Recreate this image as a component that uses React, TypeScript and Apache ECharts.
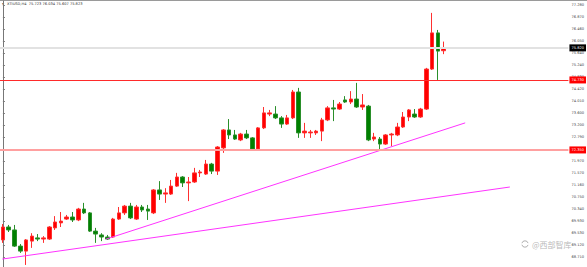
import React, { useEffect, useRef } from "react";
import * as echarts from "echarts";

const opens = [69.29,69.73,69.63,69.08,68.91,69.25,69.36,69.32,69.32,69.70,69.87,70.00,70.07,69.97,70.34,70.21,69.59,69.46,69.39,69.39,70.00,70.21,70.44,70.00,70.41,70.34,70.21,70.99,70.85,70.85,71.12,71.43,71.23,71.26,71.57,71.53,71.87,71.63,72.42,73.03,72.86,72.69,72.89,72.76,72.38,73.10,73.57,73.57,73.44,73.23,73.44,74.32,72.93,72.93,72.93,72.99,73.37,73.78,73.74,74.05,73.98,74.08,73.81,73.84,72.72,72.72,72.55,72.86,72.86,73.13,73.47,73.57,73.47,73.74,75.10,76.33,75.723];
const closes = [69.73,69.63,69.08,68.91,69.29,69.42,69.32,69.36,69.73,69.90,69.93,70.07,69.97,70.34,70.21,69.59,69.49,69.39,69.32,70.00,70.21,70.44,70.04,70.41,70.31,70.27,70.99,70.85,70.89,71.12,71.43,71.23,71.26,71.57,71.60,71.87,71.63,72.45,73.03,72.86,72.72,72.89,72.76,72.38,73.10,73.61,73.61,73.44,73.23,73.44,74.32,72.93,72.99,72.96,72.99,73.37,73.78,73.74,73.91,73.98,74.08,73.81,73.88,72.69,72.79,72.55,72.86,72.89,73.13,73.47,73.71,73.47,73.74,75.10,76.33,75.71,75.823];
const highs = [69.83,69.80,69.80,69.15,69.32,69.52,69.49,69.42,69.76,70.10,70.24,70.14,70.24,70.38,70.55,70.24,69.70,69.52,69.46,70.04,70.41,70.48,70.55,70.48,70.48,70.48,71.02,71.29,71.05,71.33,71.57,71.46,71.43,71.74,71.67,72.01,71.91,72.48,73.06,73.40,73.03,72.93,73.03,72.79,73.13,73.81,73.71,73.84,73.50,73.54,74.39,74.46,73.27,73.03,73.03,73.44,73.84,74.05,73.98,74.18,74.35,74.63,74.25,73.88,72.93,72.79,72.89,72.93,73.27,73.64,73.74,73.74,73.78,75.14,77.01,76.43,76.034];
const lows = [69.19,69.56,69.05,68.85,68.44,69.02,69.25,69.19,69.29,69.63,69.73,69.97,69.90,69.93,70.17,69.56,69.19,69.25,69.29,69.36,69.97,70.14,70.00,69.97,70.24,69.97,70.17,70.65,70.55,70.82,71.09,71.09,70.61,71.23,71.43,71.50,71.53,71.50,72.25,72.72,72.69,72.65,72.72,72.35,72.35,73.06,73.50,73.40,73.10,73.20,73.40,72.76,72.76,72.76,72.86,72.65,73.33,73.33,73.71,73.95,73.91,73.78,73.71,72.65,72.65,72.35,72.52,72.48,72.82,73.10,73.33,73.44,73.44,73.71,75.07,74.73,75.607];

const slotCount = 98;
const categories = Array.from({ length: slotCount }, (_, i) => String(i + 1));

const tickValues = [68.71, 69.12, 69.53, 69.93, 70.34, 70.75, 71.16, 71.57, 71.97, 72.38, 72.79, 73.2, 73.6, 74.01, 74.42, 74.83, 75.24, 75.64, 76.05, 76.46, 76.87, 77.28];

const currentPrice = 75.823;
const resistance = 74.73;
const support = 72.35;

const trendUpper = [[17.8, 69.32], [79.7, 73.27]];
const trendLower = [[-0.1, 68.64], [87.4, 71.09]];

const headerText = "XTIUSD,H4  75.723 76.034 75.607 75.823";
const watermark = "@西部智库";

export default function App() {
  const ref = useRef<HTMLDivElement>(null);
  useEffect(() => {
    if (!ref.current) return;
    const chart = echarts.init(ref.current, undefined, { renderer: "svg" });
    const w = 5.85;
    const left = -2.4;
    const gridWidth = w * slotCount;
    const candleData = opens.map((o, i) => [o, closes[i], lows[i], highs[i]]);
    const tickLabelFont = { fontSize: 3.6, fontFamily: "DejaVu Sans" };
    const boxLabel = (bg: string) => ({
      show: true,
      position: "end",
      distance: 1,
      formatter: (p: any) => Number(p.value).toFixed(3),
      backgroundColor: bg,
      color: "#fff",
      padding: [1.5, 2],
      fontSize: 3.6,
      fontFamily: "DejaVu Sans",
    });
    chart.setOption({
      animation: false,
      backgroundColor: "#fff",
      grid: { left, top: 1, width: gridWidth, bottom: 0, containLabel: false },
      xAxis: [
        { type: "category", data: categories, boundaryGap: true, show: false },
        { type: "value", min: -0.5, max: slotCount - 0.5, show: false },
      ],
      yAxis: {
        type: "value",
        position: "right",
        min: 68.37,
        max: 77.414,
        offset: 1,
        axisLine: { show: true, lineStyle: { color: "#777", width: 1 } },
        axisTick: { show: true, length: 2, customValues: tickValues, lineStyle: { color: "#777" } },
        axisLabel: {
          show: true,
          customValues: tickValues,
          margin: 2,
          color: "#444",
          ...tickLabelFont,
          formatter: (v: number) => v.toFixed(3),
        },
        splitLine: { show: false },
      },
      series: [
        {
          type: "candlestick",
          data: candleData,
          barWidth: 4,
          itemStyle: {
            color: "#ff0000",
            color0: "#008000",
            borderColor: "#ff3030",
            borderColor0: "#2a8f2a",
            borderWidth: 1,
          },
          markLine: {
            silent: true,
            symbol: ["none", "none"],
            data: [
              { yAxis: currentPrice, lineStyle: { color: "#e2e2e2", width: 2, type: "solid" }, label: boxLabel("#000") },
              { yAxis: resistance, lineStyle: { color: "#ff2a2a", width: 1, type: "solid" }, label: boxLabel("#ff0000") },
              { yAxis: support, lineStyle: { color: "#ffa0a0", width: 2, type: "solid" }, label: boxLabel("#ff0000") },
            ],
          },
        },
        {
          type: "line",
          xAxisIndex: 1,
          data: trendUpper,
          symbol: "none",
          silent: true,
          lineStyle: { color: "#ff33ff", width: 1 },
        },
        {
          type: "line",
          xAxisIndex: 1,
          data: trendLower,
          symbol: "none",
          silent: true,
          lineStyle: { color: "#ff33ff", width: 1 },
        },
      ],
      graphic: [
        { type: "rect", left: 0, top: 0, shape: { width: 587, height: 1 }, style: { fill: "#9a9a9a" } },
        { type: "text", left: 1.5, top: 2, style: { text: "▼", fontSize: 3, fill: "#333" } },
        { type: "text", left: 7, top: 1.8, style: { text: headerText, fontSize: 3.6, fontFamily: "DejaVu Sans", fill: "#333" } },
        { type: "arc", shape: { cx: 525, cy: 244, r: 3.2, startAngle: 0.3, endAngle: 2.9 }, style: { stroke: "#b0b0b0", lineWidth: 1, fill: "none" } },
        { type: "arc", shape: { cx: 525, cy: 244, r: 3.2, startAngle: 3.4, endAngle: 6.0 }, style: { stroke: "#b0b0b0", lineWidth: 1, fill: "none" } },
        { type: "text", left: 532, top: 240, style: { text: watermark, fontSize: 8, fontFamily: "Noto Sans CJK SC", fill: "rgba(160,160,160,0.75)" } },
      ],
    });
    return () => chart.dispose();
  }, []);
  return <div ref={ref} style={{ position: "absolute", left: 0, top: 0, width: 587, height: 267 }} />;
}
